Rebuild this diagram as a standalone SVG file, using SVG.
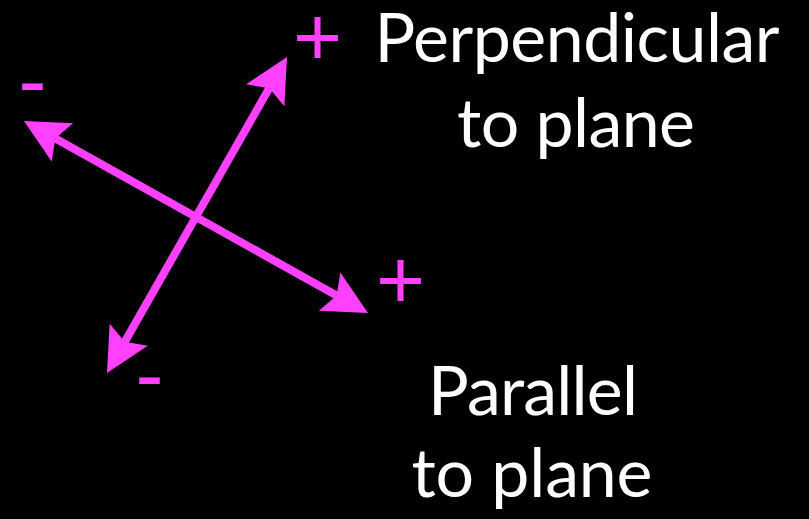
<svg xmlns="http://www.w3.org/2000/svg" width="809" height="519" viewBox="0 0 809 519">
  <style>
    .lbl { font-family: Lato, "Open Sans", "Liberation Sans", sans-serif; font-size: 68px; fill: #ffffff; text-anchor: middle; }
    .sign { font-family: "Liberation Sans", Arial, sans-serif; font-size: 84px; fill: #ff40ff; text-anchor: middle; }
    .axis { stroke: #ff40ff; stroke-width: 8; fill: none; }
  </style>
  <defs>
    <marker id="head" markerUnits="userSpaceOnUse" markerWidth="50" markerHeight="50" refX="0" refY="0" orient="auto-start-reverse" overflow="visible">
      <path d="M36,0 L-8,-22 L0,0 L-8,22 Z" fill="#ff40ff"/>
    </marker>
  </defs>
  <rect width="809" height="519" fill="#000000"/>
  <g id="connectors">
    <line class="axis" x1="124.8" y1="341.7" x2="269.2" y2="88.3" marker-start="url(#head)" marker-end="url(#head)"/>
    <line class="axis" x1="55.4" y1="138.5" x2="336.6" y2="295.5" marker-start="url(#head)" marker-end="url(#head)"/>
  </g>
  <g id="perp-plus"><text class="sign" x="317.5" y="64.5">+</text></g>
  <g id="perp-minus"><text class="sign" x="149.5" y="403">-</text></g>
  <g id="par-plus"><text class="sign" x="400.5" y="307.5">+</text></g>
  <g id="par-minus"><text class="sign" x="32.5" y="109">-</text></g>
  <g id="perp-label">
    <text class="lbl" x="577" y="62" textLength="405">Perpendicular</text>
    <text class="lbl" x="576" y="147" textLength="238">to plane</text>
  </g>
  <g id="par-label">
    <text class="lbl" x="533" y="415" textLength="210">Parallel</text>
    <text class="lbl" x="532" y="497" textLength="241">to plane</text>
  </g>
</svg>
